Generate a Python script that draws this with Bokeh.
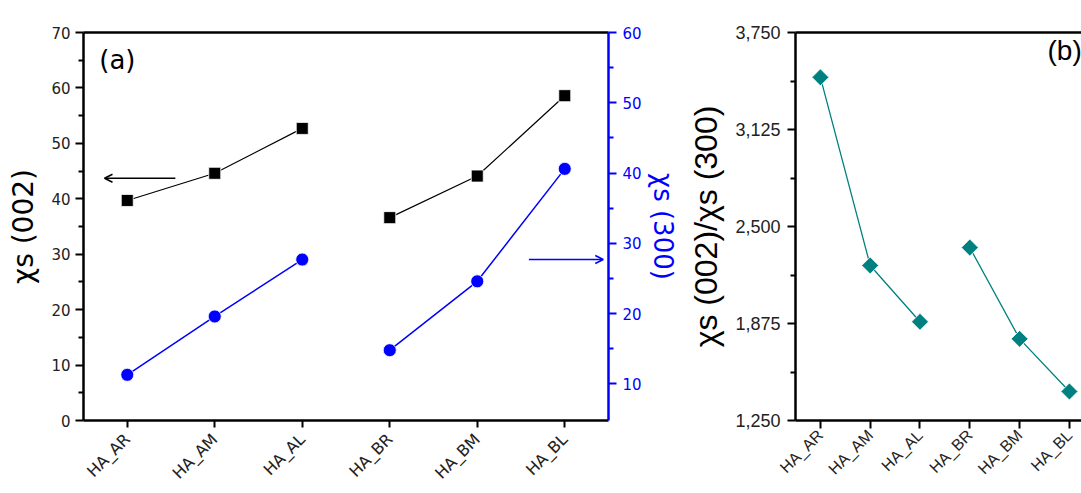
import math
from bokeh.plotting import figure
from bokeh.models import (Range1d, LinearAxis, FixedTicker, Arrow, OpenHead,
                          Label, NumeralTickFormatter)
from bokeh.layouts import row
from bokeh.embed import file_html
from bokeh.resources import INLINE

# ---------------- data ----------------
samples = ["HA_AR", "HA_AM", "HA_AL", "HA_BR", "HA_BM", "HA_BL"]
positions = [1, 2, 3, 4, 5, 6]
xs_002 = [39.7, 44.6, 52.7, 36.6, 44.1, 58.6]        # left axis, black squares
xs_300 = [11.3, 19.6, 27.7, 14.8, 24.6, 40.6]        # right axis, blue circles
ratio = [3461, 2249, 1886, 2364, 1776, 1437]         # panel (b), teal diamonds
series_groups = [[0, 1, 2], [3, 4, 5]]

left_ticks = [0, 10, 20, 30, 40, 50, 60, 70]
left_minor = [5, 15, 25, 35, 45, 55, 65]
right_ticks = [10, 20, 30, 40, 50, 60]
right_minor = [15, 25, 35, 45, 55]
b_ticks = [1250, 1875, 2500, 3125, 3750]
b_minor = [1562.5, 2187.5, 2812.5, 3437.5]

overrides = {p: s for p, s in zip(positions, samples)}

BLUE = "#0000FF"
TEAL = "#008080"
TXT = "#222222"
FA = "DejaVu Sans"
FB = "Liberation Sans"


def style_axis(ax, font, size, color, lw=2.5, tick_out=8, minor_out=5):
    ax.axis_line_width = lw
    ax.axis_line_color = color
    ax.major_tick_line_color = color
    ax.minor_tick_line_color = color
    ax.major_tick_line_width = 2
    ax.minor_tick_line_width = 2
    ax.major_tick_out = tick_out
    ax.major_tick_in = 0
    ax.minor_tick_out = minor_out
    ax.minor_tick_in = 0
    ax.major_label_text_font = font
    ax.major_label_text_font_size = size
    ax.major_label_text_color = color if color != "black" else TXT


# ---------------- panel (a) ----------------
pa = figure(width=680, height=493, x_range=Range1d(0.5, 6.5), y_range=Range1d(0, 70),
            output_backend="svg", toolbar_location=None,
            min_border_left=83, min_border_right=72, min_border_top=32, min_border_bottom=73)
pa.extra_y_ranges = {"r": Range1d(4.8, 60)}
pa.grid.visible = False
pa.outline_line_color = None
pa.background_fill_color = "white"

xa = pa.xaxis[0]
xa.ticker = FixedTicker(ticks=positions, minor_ticks=[])
xa.major_label_overrides = overrides
xa.major_label_orientation = math.pi / 4
style_axis(xa, FA, "16px", "black", tick_out=7)
xa.major_label_standoff = 9

ya = pa.yaxis[0]
ya.ticker = FixedTicker(ticks=left_ticks, minor_ticks=left_minor)
style_axis(ya, FA, "15px", "black")
ya.major_label_standoff = 5
ya.axis_label = "χs (002)"
ya.axis_label_text_font = FA
ya.axis_label_text_font_size = "28px"
ya.axis_label_text_font_style = "normal"
ya.axis_label_text_color = "black"
ya.axis_label_standoff = 8

yr = LinearAxis(y_range_name="r", ticker=FixedTicker(ticks=right_ticks, minor_ticks=right_minor))
style_axis(yr, FA, "15px", BLUE)
yr.major_label_text_color = BLUE
yr.major_label_standoff = 6
yr.axis_label = "χs (300)"
yr.axis_label_text_font = FA
yr.axis_label_text_font_size = "26px"
yr.axis_label_text_font_style = "normal"
yr.axis_label_text_color = BLUE
yr.axis_label_standoff = 3
pa.add_layout(yr, "right")

top_a = LinearAxis(ticker=FixedTicker(ticks=[]))
top_a.axis_line_width = 2.5
top_a.axis_line_color = "black"
top_a.major_tick_line_color = None
top_a.minor_tick_line_color = None
pa.add_layout(top_a, "above")

for g in series_groups:
    gx = [positions[i] for i in g]
    pa.line(gx, [xs_002[i] for i in g], line_color="black", line_width=1.2)
    pa.line(gx, [xs_300[i] for i in g], line_color=BLUE, line_width=1.5, y_range_name="r")
pa.scatter(positions, xs_002, marker="square", size=12, fill_color="black",
           line_color="white", line_width=0.8)
pa.scatter(positions, xs_300, marker="circle", size=13, fill_color=BLUE,
           line_color="white", line_width=0.8, y_range_name="r")

pa.add_layout(Arrow(x_start=1.55, y_start=43.7, x_end=0.74, y_end=43.7,
                    line_color="black", line_width=1.5,
                    end=OpenHead(size=8, line_color="black", line_width=1.5)))
pa.add_layout(Arrow(x_start=5.59, y_start=27.7, x_end=6.44, y_end=27.7, y_range_name="r",
                    line_color=BLUE, line_width=1.5,
                    end=OpenHead(size=8, line_color=BLUE, line_width=1.5)))

pa.add_layout(Label(x=0.68, y=67.8, text="(a)", text_font=FA, text_font_size="26px",
                    text_color="black", text_baseline="top", text_align="left"))

# ---------------- panel (b) ----------------
pb = figure(width=401, height=493, x_range=Range1d(0.5, 6.243), y_range=Range1d(1250, 3750),
            output_backend="svg", toolbar_location=None,
            min_border_left=115, min_border_right=0, min_border_top=25, min_border_bottom=70)
pb.grid.visible = False
pb.outline_line_color = None

xb = pb.xaxis[0]
xb.ticker = FixedTicker(ticks=positions, minor_ticks=[])
xb.major_label_overrides = overrides
xb.major_label_orientation = math.pi / 4
style_axis(xb, FB, "16px", "black", tick_out=8)
xb.major_label_standoff = 4

yb = pb.yaxis[0]
yb.ticker = FixedTicker(ticks=b_ticks, minor_ticks=b_minor)
yb.formatter = NumeralTickFormatter(format="0,0")
style_axis(yb, FB, "18px", "black")
yb.major_label_standoff = 7
yb.axis_label = "χs (002)/χs (300)"
yb.axis_label_text_font = FB
yb.axis_label_text_font_size = "32px"
yb.axis_label_text_font_style = "normal"
yb.axis_label_text_color = "black"
yb.axis_label_standoff = 8

top_b = LinearAxis(ticker=FixedTicker(ticks=[]))
top_b.axis_line_width = 2.5
top_b.axis_line_color = "black"
top_b.major_tick_line_color = None
top_b.minor_tick_line_color = None
pb.add_layout(top_b, "above")

for g in series_groups:
    pb.line([positions[i] for i in g], [ratio[i] for i in g], line_color=TEAL, line_width=1.3)
pb.scatter(positions, ratio, marker="square", angle=math.pi / 4, size=12,
           fill_color=TEAL, line_color="white", line_width=0.8)

pb.add_layout(Label(x=5.56, y=3735, text="(b)", text_font=FB, text_font_size="28px",
                    text_color="black", text_baseline="top", text_align="left"))

layout = row(pa, pb)
open("out.html", "w").write(file_html(layout, INLINE))
